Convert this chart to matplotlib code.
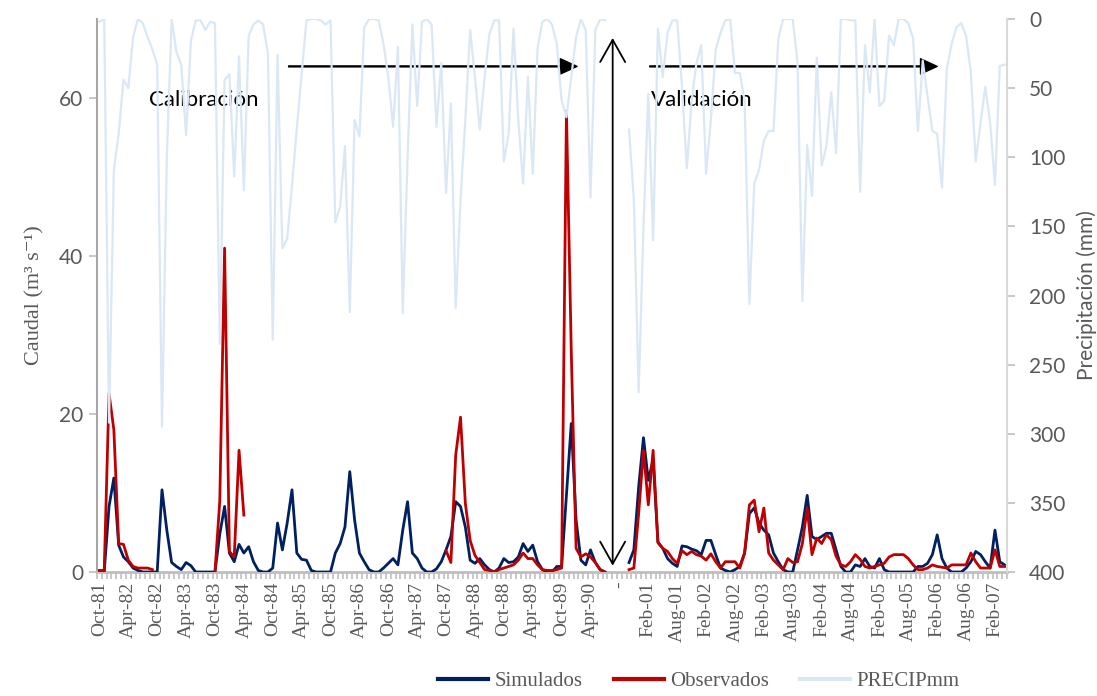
import numpy as np
import pandas as pd
import matplotlib
matplotlib.use("Agg")
import matplotlib.pyplot as plt
from matplotlib.ticker import FixedLocator

nan = np.nan

# ---------------- categories ----------------
cal_months = pd.date_range("1981-10-01", "1990-09-01", freq="MS").strftime("%b-%y").tolist()
gap_label = ["-"]
val_months = pd.date_range("2000-09-01", "2007-04-01", freq="MS").strftime("%b-%y").tolist()
categories = cal_months + gap_label + val_months

# ---------------- series (indices 0..188) ----------------
sim_cal = [0, 0, 8.3, 11.9, 3.4, 1.9, 1.3, 0.5, 0.2, 0, 0, 0, 0, 10.4, 5.3, 1.2, 0.7, 0.3, 1.2, 0.8,
           0, 0, 0, 0, 0, 4.8, 8.3, 2.4, 1.3, 3.5, 2.4, 3.2, 1.3, 0.2, 0, 0, 0.5, 6.2, 2.8, 6.2,
           10.4, 2.4, 1.6, 1.5, 0.2, 0, 0, 0, 0, 2.4, 3.6, 5.7, 12.7, 6.6, 2.4, 1.3, 0.3, 0, 0, 0.5,
           1.1, 1.7, 0.9, 5.3, 8.9, 2.4, 1.7, 0.5, 0, 0, 0.4, 1.3, 2.8, 4.5, 8.9, 8.3, 5.7, 1.5, 1.1, 1.7,
           0.9, 0.3, 0, 0.5, 1.7, 1.2, 1.3, 1.9, 3.6, 2.6, 3.4, 1.3, 0.3, 0, 0, 0.7, 0.7, 9.7, 18.8, 6.6,
           1.5, 0.9, 2.8, 1.2, 0.3, 0]
obs_cal = [0.2, 0.2, 22.6, 18, 3.6, 3.5, 1.5, 0.7, 0.5, 0.5, 0.5, 0.3, nan, nan, nan, nan, nan, nan, nan, nan,
           nan, nan, nan, nan, 0, 9, 41, 2.6, 1.9, 15.4, 7.2, nan, nan, nan, nan, nan, nan, nan, nan, nan,
           nan, nan, nan, nan, nan, nan, nan, nan, nan, nan, nan, nan, nan, nan, nan, nan, nan, nan, nan, nan,
           nan, nan, nan, nan, nan, nan, nan, nan, nan, nan, nan, nan, 2.7, 1.2, 14.8, 19.6, 8.7, 4, 2.1, 1.2,
           0.3, 0.2, 0, 0.3, 0.5, 0.7, 0.9, 1.5, 2.4, 1.7, 1.7, 0.9, 0.3, 0.2, 0.2, 0.3, 0.5, 58.3, 28, 3.0,
           1.9, 2.3, 1.9, 1.2, 0.3, 0]
prec_cal = [2, 0, 292, 109, 83, 44, 50, 13, 0, 3, 13, 22, 33, 295, 100, 0, 24, 33, 84, 16,
            1, 1, 8, 2, 3, 235, 44, 40, 114, 27, 124, 12, 4, 1, 4, 25, 232, 26, 166, 159,
            120, 79, 40, 1, 0, 0, 1, 4, 1, 147, 136, 92, 212, 73, 85, 6, 0, 0, 1, 18,
            42, 78, 20, 213, 100, 4, 63, 2, 0, 4, 78, 32, 126, 61, 209, 131, 73, 8, 42, 80,
            42, 11, 1, 1, 103, 83, 7, 73, 119, 42, 112, 21, 2, 0, 4, 18, 59, 71, 42, 13,
            0, 8, 129, 8, 0, 1]
gap_values = [nan, nan, nan, nan]   # indices 106..109 (no data)
sim_val = [1.2, 2.8, 10.8, 17.0, 11.6, 14.2, 3.8, 3.0, 1.7, 1.1, 0.7, 3.3, 3.2, 2.9, 2.7, 2.2, 4.0, 4.0, 2.2, 0.5,
           0.2, 0, 0.3, 0.7, 2.4, 7.4, 8.1, 6.2, 5.3, 4.7, 2.4, 1.3, 0.3, 0, 0, 2.8, 5.7, 9.7, 4.5, 4.1,
           4.5, 4.9, 4.9, 2.8, 0.7, 0, 0, 0.9, 0.7, 1.7, 0.7, 0.5, 1.7, 0.3, 0, 0, 0, 0, 0, 0,
           0.7, 0.7, 1.1, 2.2, 4.7, 1.7, 0.5, 0, 0, 0, 0.5, 1.3, 2.6, 2.2, 1.3, 0.5, 5.3, 1.3, 0.9]
obs_val = [0.3, 0.5, 7.4, 15.4, 8.5, 15.4, 3.7, 3.0, 2.6, 1.7, 1.1, 2.7, 2.2, 2.6, 2.2, 2.0, 1.5, 2.3, 1.3, 0.5,
           1.3, 1.3, 1.3, 0.5, 2.4, 8.5, 9.1, 5.1, 8.1, 2.4, 1.5, 0.9, 0.3, 1.7, 1.2, 1.3, 3.6, 8.1, 2.2, 4.3,
           3.6, 4.7, 4.1, 2.0, 0.9, 0.7, 1.3, 2.2, 1.6, 0.7, 0.5, 0.7, 0.9, 1.1, 1.9, 2.2, 2.2, 2.2, 1.7, 0.9,
           0.3, 0.3, 0.5, 0.9, 0.7, 0.6, 0.5, 0.9, 0.9, 0.9, 0.9, 2.4, 1.3, 0.5, 0.5, 0.5, 2.8, 0.7, 0.7]
prec_val = [80, 131, 270, 150, 54, 160, 7, 42, 10, 1, 1, 49, 108, 59, 32, 19, 112, 73, 22, 10,
            1, 0, 39, 39, 59, 206, 119, 109, 88, 81, 81, 14, 0, 0, 0, 32, 204, 91, 128, 28,
            106, 92, 53, 97, 0, 0, 1, 1, 125, 19, 53, 0, 63, 59, 12, 19, 0, 0, 3, 14,
            81, 30, 56, 81, 83, 122, 36, 18, 6, 3, 12, 39, 103, 75, 49, 75, 120, 34, 33]

simulados = np.array(sim_cal + gap_values + sim_val, dtype=float)
observados = np.array(obs_cal + gap_values + obs_val, dtype=float)
precip = np.array(prec_cal + gap_values + prec_val, dtype=float)
x = np.arange(len(categories))

# ---------------- styling ----------------
C_SIM = "#002060"
C_OBS = "#C00000"
C_PRE = "#DAE8F5"
GRAY_TXT = "#595959"
SPINE = "#BFBFBF"
SERIF = ["Liberation Serif", "DejaVu Serif"]
SANS = ["Lato", "DejaVu Sans"]

W, H = 1097, 696
fig = plt.figure(figsize=(W / 100, H / 100), dpi=100)
ax = fig.add_axes([97 / W, 1 - 572 / H, 910 / W, 553 / H])
ax2 = ax.twinx()

l_sim, = ax.plot(x, simulados, color=C_SIM, lw=2.0, solid_joinstyle="round", zorder=3)
l_obs, = ax.plot(x, observados, color=C_OBS, lw=2.0, solid_joinstyle="round", zorder=4)
l_pre, = ax2.plot(x, precip, color=C_PRE, lw=1.6, zorder=2)

ax.set_xlim(-0.5, len(categories) - 0.5)
ax.set_ylim(0, 70)
ax2.set_ylim(400, 0)

# y ticks
ax.set_yticks([0, 20, 40, 60])
ax2.set_yticks(np.arange(0, 401, 50))
for a in (ax, ax2):
    a.tick_params(axis="y", colors=SPINE, labelcolor=GRAY_TXT, length=6, width=1.2, labelsize=15)
    for lab in a.get_yticklabels():
        lab.set_family(SANS)
ax.tick_params(axis="y", pad=4)
ax2.tick_params(axis="y", pad=10)

# x ticks
tick_idx = list(range(0, len(categories), 6))
ax.set_xticks(tick_idx)
ax.set_xticklabels([categories[i] for i in tick_idx], rotation=90, family=SERIF,
                   fontsize=14, color=GRAY_TXT)
ax.xaxis.set_minor_locator(FixedLocator(np.arange(-0.5, len(categories), 1.0)))
ax.tick_params(axis="x", which="major", length=0, pad=7)
ax.tick_params(axis="x", which="minor", length=5, width=1.2, color=SPINE)

for a in (ax, ax2):
    a.spines["top"].set_visible(False)
ax.spines["left"].set_color("#A6A6A6")
ax.spines["left"].set_linewidth(1.5)
ax.spines["bottom"].set_color(SPINE)
ax.spines["bottom"].set_linewidth(2.0)
ax2.spines["right"].set_color("#D9D9D9")
ax2.spines["right"].set_linewidth(1.5)
for s in ("left", "bottom"):
    ax2.spines[s].set_visible(False)
ax.spines["right"].set_visible(False)

ax.set_ylabel("Caudal (m³ s⁻¹)", family=SERIF, fontsize=16, color=GRAY_TXT, labelpad=10)
ax2.set_ylabel("Precipitación (mm)", family=SANS, fontsize=15, color=GRAY_TXT, labelpad=8)

ax.set_zorder(1)
ax2.set_zorder(2)
ax.patch.set_visible(False)
ax2.patch.set_visible(False)

# annotations
arrow_kw = dict(facecolor="black", edgecolor="black", width=0.7, headwidth=11,
                headlength=12, shrink=0.0)
ax.annotate("", xy=(99.2, 64.0), xytext=(39.3, 64.0), arrowprops=arrow_kw, zorder=6)
ax.annotate("", xy=(174.0, 64.0), xytext=(114.3, 64.0), arrowprops=arrow_kw, zorder=6)
ax.annotate("", xy=(106.6, 67.6), xytext=(106.6, 0.8),
            arrowprops=dict(arrowstyle="<->,head_length=0.8,head_width=0.45", color="black",
                            lw=1.3, mutation_scale=20, shrinkA=0, shrinkB=0), zorder=6)
ax.text(10.4, 59.8, "Calibración", family=SANS, fontsize=16, color="black", va="center", ha="left", zorder=6)
ax.text(114.6, 59.8, "Validación", family=SANS, fontsize=16, color="black", va="center", ha="left", zorder=6)

leg = fig.legend([l_sim, l_obs, l_pre], ["Simulados", "Observados", "PRECIPmm"],
                 loc="center", bbox_to_anchor=(0.637, 0.021), ncol=3, frameon=False,
                 prop={"family": SERIF, "size": 15}, handlelength=2.4, handletextpad=0.3,
                 columnspacing=1.5, borderpad=0.1)
for t in leg.get_texts():
    t.set_color(GRAY_TXT)
for lh in leg.get_lines():
    lh.set_linewidth(3.0)

fig.savefig("out.png", dpi=100)
